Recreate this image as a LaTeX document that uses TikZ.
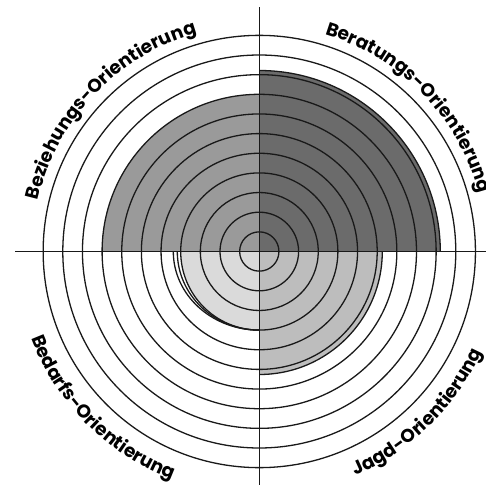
\documentclass[tikz,border=0pt]{standalone}
\usepackage{fontspec}
\usetikzlibrary{decorations.text}
\newfontfamily\lblfamily{Poppins}
\newcommand{\lblfont}{\lblfamily\bfseries\fontsize{18.5}{20}\selectfont}
\definecolor{ulgray}{HTML}{9A9A9A}
\definecolor{urgray}{HTML}{6B6B6B}
\definecolor{lrgray}{HTML}{BDBDBD}
\definecolor{llgray}{HTML}{DADADA}
\begin{document}
\begin{tikzpicture}[x=1pt,y=1pt,
  ring/.style={line width=1.3pt,black!90},
  axis/.style={line width=1pt,black!90},
  bend/.style={decorate,decoration={text along path,text align=center,text={|\lblfont|#1}}}]
\useasboundingbox (-259.3,-239.5) rectangle (226.7,251.5);
% shaded quarters
\fill[ulgray] (0,0) -- (-157.2,0) arc[start angle=180,end angle=90,radius=157.2] -- cycle;
\fill[urgray] (0,0) -- (0,181) arc[start angle=90,end angle=0,radius=181] -- cycle;
\fill[lrgray] (0,0) -- (123,0) arc[start angle=0,end angle=-90,radius=123] -- cycle;
\fill[llgray] (0,0) -- (-78.6,0) arc[start angle=180,end angle=270,radius=78.6] -- cycle;
% rings
\foreach \k in {1,...,11}
  \draw[ring] (0,0) circle ({19.65*\k});
\draw[ring] (0,181) arc[start angle=90,end angle=0,radius=181];
\draw[ring] (123,0) arc[start angle=0,end angle=-90,radius=123];
\draw[ring] (-86,0) arc[start angle=180,end angle=270,x radius=86,y radius=78.6];
\draw[ring] (-82,0) arc[start angle=180,end angle=270,x radius=82,y radius=78.6];
% axes
\draw[axis] (-244,0) -- (226.7,0);
\draw[axis] (0,244.5) -- (0,-233.5);
% labels
\path[bend={Beziehungs-Orientierung}] (176.5:227) arc[start angle=176.5,end angle=96.5,radius=227];
\path[bend={Beratungs-Orientierung}] (84:227) arc[start angle=84,end angle=4,radius=227];
\path[bend={Bedarfs-Orientierung}] (185:244) arc[start angle=185,end angle=265,radius=244];
\path[bend={Jagd-Orientierung}] (274.5:244) arc[start angle=274.5,end angle=354.5,radius=244];
\end{tikzpicture}
\end{document}
